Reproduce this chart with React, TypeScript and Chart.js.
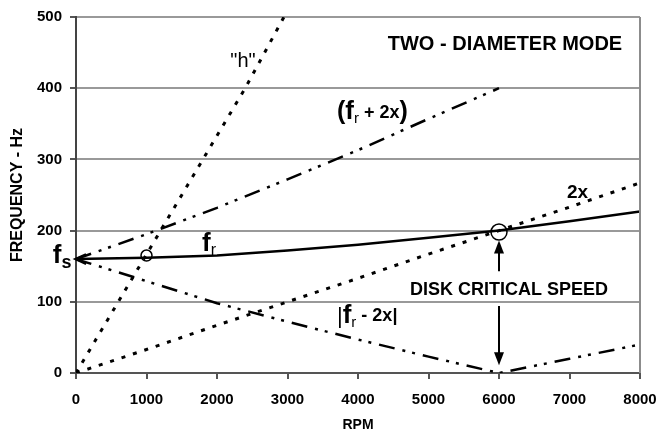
import React, { useEffect, useRef } from "react";
import { Chart, registerables } from "chart.js";

Chart.register(...registerables);

// ---- data ----
const rpmTicks = [0, 1000, 2000, 3000, 4000, 5000, 6000, 7000, 8000];
const freqTicks = [0, 100, 200, 300, 400, 500];

const frRpm = [0, 1000, 2000, 3000, 4000, 5000, 6000, 7000, 8000];
const frHz = [160, 162, 165, 172, 180, 190, 200, 213, 227];

const twoXRpm = [0, 1000, 2000, 3000, 4000, 5000, 6000, 7000, 8000];
const twoXHz = [0, 33, 67, 100, 133, 167, 200, 233, 267];

const frPlus2xRpm = [0, 1000, 2000, 3000, 4000, 5000, 6000];
const frPlus2xHz = [160, 195, 232, 272, 313, 357, 400];

const frMinus2xRpm = [0, 1000, 2000, 3000, 4000, 5000, 6000, 7000, 8000];
const frMinus2xHz = [160, 129, 98, 72, 47, 23, 0, 20, 40];

const hRpm = [0, 600, 1200, 1800, 2400, 2950];
const hHz = [0, 100, 200, 300, 400, 500];

const FONT = '"Liberation Sans", Arial, Helvetica, sans-serif';

const toPts = (xs: number[], ys: number[]) => xs.map((x, i) => ({ x, y: ys[i] }));

type Part = { t: string; size: number; bold?: boolean; dy?: number };

function drawRich(ctx: CanvasRenderingContext2D, parts: Part[], x: number, y: number) {
  let cx = x;
  ctx.textBaseline = "alphabetic";
  ctx.textAlign = "left";
  for (const p of parts) {
    ctx.font = `${p.bold ? "bold " : ""}${p.size}px ${FONT}`;
    ctx.fillText(p.t, cx, y + (p.dy || 0));
    cx += ctx.measureText(p.t).width;
  }
}

const annotationPlugin = {
  id: "annot",
  afterDatasetsDraw(chart: any) {
    const ctx: CanvasRenderingContext2D = chart.ctx;
    const xs = chart.scales.x;
    const ys = chart.scales.y;
    const X = (v: number) => xs.getPixelForValue(v);
    const Y = (v: number) => ys.getPixelForValue(v);
    const ca = chart.chartArea;
    ctx.save();
    // right frame line
    ctx.strokeStyle = "#8c8c8c";
    ctx.lineWidth = 2;
    ctx.beginPath();
    ctx.moveTo(ca.right, ca.top);
    ctx.lineTo(ca.right, ca.bottom);
    ctx.stroke();

    ctx.fillStyle = "#000";
    ctx.strokeStyle = "#000";

    // title
    ctx.font = `bold 20px ${FONT}`;
    ctx.textAlign = "center";
    ctx.textBaseline = "middle";
    ctx.fillText("TWO - DIAMETER MODE", X(6085), Y(462));

    ctx.font = `bold 18px ${FONT}`;
    ctx.fillText("DISK CRITICAL SPEED", X(6142), Y(117));

    ctx.font = `20px ${FONT}`;
    ctx.fillText('"h"', X(2369), Y(437));

    // rich labels
    drawRich(ctx, [
      { t: "(", size: 25, bold: true },
      { t: "f", size: 26, bold: true },
      { t: "r", size: 15, dy: 4 },
      { t: " + 2x", size: 18, bold: true, dy: -1 },
      { t: ")", size: 25, bold: true },
    ], X(3702), Y(357));

    drawRich(ctx, [{ t: "2x", size: 19, bold: true }], X(6965), Y(246));

    drawRich(ctx, [
      { t: "f", size: 26, bold: true },
      { t: "r", size: 16, dy: 4 },
    ], X(1787), Y(171));

    drawRich(ctx, [
      { t: "f", size: 26, bold: true },
      { t: "s", size: 18, bold: true, dy: 5 },
    ], X(-330), Y(154));

    drawRich(ctx, [
      { t: "|", size: 22 },
      { t: "f", size: 26, bold: true },
      { t: "r", size: 15, dy: 4 },
      { t: " - 2x|", size: 18, bold: true, dy: -2 },
    ], X(3702), Y(70));

    // circles
    ctx.lineWidth = 1.5;
    ctx.beginPath();
    ctx.arc(X(1000), Y(165), 5.5, 0, Math.PI * 2);
    ctx.stroke();
    ctx.beginPath();
    ctx.arc(X(6000), Y(198), 8, 0, Math.PI * 2);
    ctx.stroke();

    // arrows
    const arrow = (x: number, y1: number, y2: number) => {
      const dir = y2 > y1 ? 1 : -1;
      ctx.lineWidth = 2;
      ctx.beginPath();
      ctx.moveTo(x, y1);
      ctx.lineTo(x, y2 - dir * 10);
      ctx.stroke();
      ctx.beginPath();
      ctx.moveTo(x, y2);
      ctx.lineTo(x - 5, y2 - dir * 13);
      ctx.lineTo(x + 5, y2 - dir * 13);
      ctx.closePath();
      ctx.fill();
    };
    arrow(X(6000), Y(143), Y(186));
    arrow(X(6000), Y(94), Y(11));

    // fs arrowhead (open)
    const tx = X(0) - 1;
    const ty = Y(160);
    ctx.lineWidth = 2;
    ctx.beginPath();
    ctx.moveTo(tx + 11, ty - 5);
    ctx.lineTo(tx, ty);
    ctx.lineTo(tx + 11, ty + 5);
    ctx.stroke();
    ctx.restore();
  },
};

export default function App() {
  const ref = useRef<HTMLCanvasElement | null>(null);
  useEffect(() => {
    document.body.style.margin = "0";
    const canvas = ref.current!;
    const dot = [4, 8];
    const dashDot = [16, 8, 3, 7, 3, 8];
    const chart = new Chart(canvas, {
      type: "scatter",
      data: {
        datasets: [
          {
            label: "h",
            data: toPts(hRpm, hHz),
            showLine: true,
            borderColor: "#000",
            borderWidth: 3,
            borderDash: dot,
            pointRadius: 0,
          },
          {
            label: "2x",
            data: toPts(twoXRpm, twoXHz),
            showLine: true,
            borderColor: "#000",
            borderWidth: 3,
            borderDash: dot,
            pointRadius: 0,
          },
          {
            label: "fr+2x",
            data: toPts(frPlus2xRpm, frPlus2xHz),
            showLine: true,
            borderColor: "#000",
            borderWidth: 2.5,
            borderDash: dashDot,
            pointRadius: 0,
          },
          {
            label: "|fr-2x|",
            data: toPts(frMinus2xRpm, frMinus2xHz),
            showLine: true,
            borderColor: "#000",
            borderWidth: 2.5,
            borderDash: dashDot,
            pointRadius: 0,
          },
          {
            label: "fr",
            data: toPts(frRpm, frHz),
            showLine: true,
            borderColor: "#000",
            borderWidth: 2.5,
            tension: 0,
            pointRadius: 0,
          },
        ],
      },
      options: {
        responsive: false,
        animation: false,
        devicePixelRatio: 1,
        layout: { padding: { top: 13, right: 29, left: 0, bottom: 0 } },
        plugins: { legend: { display: false }, tooltip: { enabled: false } },
        scales: {
          x: {
            type: "linear",
            min: 0,
            max: 8000,
            afterBuildTicks: (s: any) => {
              s.ticks = rpmTicks.map((v) => ({ value: v }));
            },
            afterFit: (s: any) => {
              s.height = 62;
            },
            ticks: {
              color: "#000",
              font: { family: FONT, size: 15, weight: "bold" },
              padding: 12,
              maxRotation: 0,
              callback: (v: any) => String(v),
            },
            grid: {
              drawOnChartArea: false,
              drawTicks: true,
              tickLength: 6,
              tickColor: "#555",
              lineWidth: 2,
            },
            border: { color: "#555", width: 2 },
            title: {
              display: true,
              text: "RPM",
              color: "#000",
              font: { family: FONT, size: 14, weight: "bold" },
              padding: { top: 0, bottom: 1 },
            },
          },
          y: {
            type: "linear",
            min: 0,
            max: 500,
            afterBuildTicks: (s: any) => {
              s.ticks = freqTicks.map((v) => ({ value: v }));
            },
            afterFit: (s: any) => {
              s.width = 76;
            },
            ticks: {
              color: "#000",
              font: { family: FONT, size: 15, weight: "bold" },
              padding: 8,
              callback: (v: any) => String(v),
            },
            grid: {
              color: "#999",
              lineWidth: 2,
              drawTicks: true,
              tickLength: 6,
              tickColor: "#555",
            },
            border: { color: "#444", width: 2 },
            title: {
              display: true,
              text: "FREQUENCY - Hz",
              color: "#000",
              font: { family: FONT, size: 16, weight: "bold" },
              padding: { top: 8, bottom: 0 },
            },
          },
        },
      },
      plugins: [annotationPlugin],
    } as any);
    return () => chart.destroy();
  }, []);
  return (
    <div style={{ width: 669, height: 435 }}>
      <canvas ref={ref} width={669} height={435} />
    </div>
  );
}
